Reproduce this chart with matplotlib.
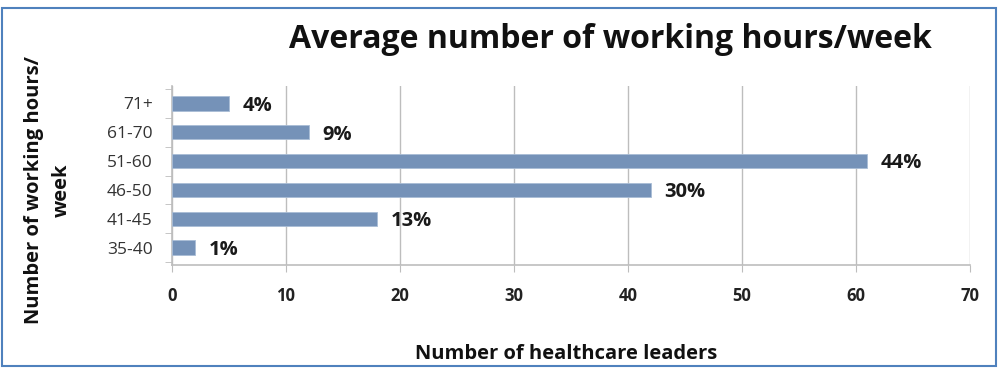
import matplotlib
matplotlib.use("Agg")
import matplotlib.pyplot as plt
from matplotlib.patches import Rectangle

# dados
categorias = ["35-40", "41-45", "46-50", "51-60", "61-70", "71+"]
lideres = [2, 18, 42, 61, 12, 5]
percentuais = ["1%", "13%", "30%", "44%", "9%", "4%"]
ticks_x = [0, 10, 20, 30, 40, 50, 60, 70]

plt.rcParams['font.family'] = ['Open Sans', 'DejaVu Sans']

fig = plt.figure(figsize=(9.98, 3.71), dpi=100)
ax = fig.add_axes([172/998, 1-265/371, (970-172)/998, (265-86)/371])

cor_barra = "#7592b8"
cor_eixo = "#bdbdbd"

pos = list(range(len(categorias)))
ax.barh(pos, lideres, height=0.5, color=cor_barra, edgecolor="#a9bdd6", linewidth=0.6, zorder=3)

for p, v, t in zip(pos, lideres, percentuais):
    ax.text(v + 1.2, p - 0.08, t, va="center", ha="left", fontsize=14.5,
            fontweight="bold", color="#1a1a1a", zorder=4)

ax.set_xlim(0, 70)
ax.set_ylim(-0.6, 5.6)
ax.set_xticks(ticks_x)
ax.set_xticklabels([str(t) for t in ticks_x], fontsize=12, fontweight="bold", color="#222222")
ax.set_yticks(pos)
ax.set_yticklabels(categorias, fontsize=12.5, color="#333333")
ax.set_yticks([p - 0.5 for p in pos] + [5.5], minor=True)
ax.tick_params(axis="y", which="major", length=0, pad=14)
ax.tick_params(axis="y", which="minor", length=5, color=cor_eixo, direction="out")
ax.tick_params(axis="x", which="major", length=5, color=cor_eixo, direction="out", pad=11)

ax.grid(axis="x", color=cor_eixo, linewidth=1, zorder=0)
for s in ["top", "right"]:
    ax.spines[s].set_visible(False)
ax.spines["left"].set_color(cor_eixo)
ax.spines["bottom"].set_color(cor_eixo)
ax.spines["left"].set_linewidth(1.2)
ax.spines["bottom"].set_linewidth(1.2)

fig.text(610/998, 1-40/371, "Average number of working hours/week", ha="center", va="center",
         fontsize=23, fontweight="bold", color="#111111")
fig.text(566/998, 1-354/371, "Number of healthcare leaders", ha="center", va="center",
         fontsize=14.5, fontweight="bold", color="#111111")
fig.text(48/998, 1-190/371, "Number of working hours/\nweek", ha="center", va="center",
         rotation=90, fontsize=14.5, fontweight="bold", color="#111111", linespacing=1.55)

# moldura azul
fig.patches.append(Rectangle((2/998, 5/371), 994/998, 1-13/371, transform=fig.transFigure,
                             fill=False, edgecolor="#4f81bd", linewidth=1.5))

fig.savefig("out.png", dpi=100)
